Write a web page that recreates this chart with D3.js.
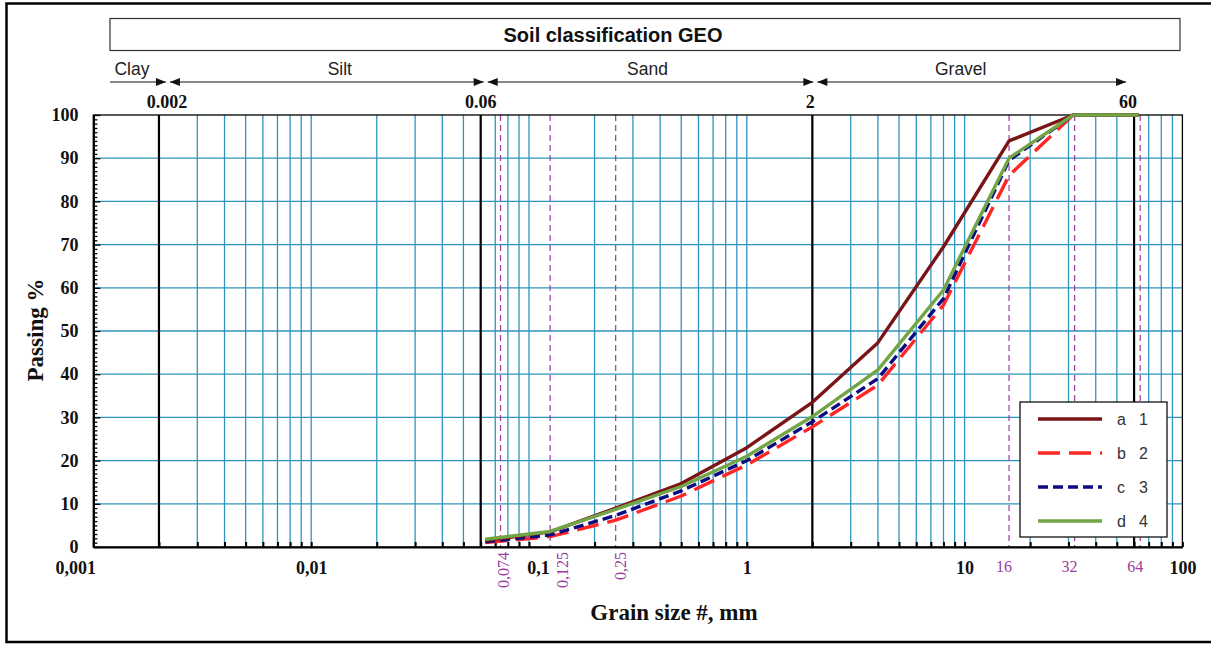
<!DOCTYPE html>
<html>
<head>
<meta charset="utf-8">
<script src="https://cdn.jsdelivr.net/npm/d3@7"></script>
<style>
  html, body { margin: 0; padding: 0; background: #ffffff; }
  svg { display: block; }
</style>
</head>
<body>
<svg id="chart" width="1211" height="645"></svg>
<script>
// ---------------- DATA ----------------
const sieveSizes = [0.063, 0.125, 0.25, 0.5, 1, 2, 4, 8, 16, 31.5, 63];
const seriesA = [1.5, 3.5, 9.0, 14.7, 23.0, 33.5, 47.3, 69.5, 94.0, 100, 100];
const seriesB = [1.0, 2.4, 6.2, 11.8, 19.0, 27.8, 37.5, 56.0, 86.0, 100, 100];
const seriesC = [1.2, 2.8, 7.3, 13.0, 20.0, 29.0, 39.0, 57.5, 89.5, 100, 100];
const seriesD = [1.8, 3.6, 8.7, 14.0, 21.0, 30.2, 41.0, 59.5, 90.0, 100, 100];
const seriesLetters = ["a", "b", "c", "d"];
const seriesNumbers = ["1", "2", "3", "4"];

const classBoundaries = [0.002, 0.06, 2, 60];
const boundaryLabels = ["0.002", "0.06", "2", "60"];
const classNames = ["Clay", "Silt", "Sand", "Gravel"];

const sieveMarks = [0.074, 0.125, 0.25, 16, 32, 64];
const sieveMarkLabels = ["0,074", "0,125", "0,25", "16", "32", "64"];

const xDecades = [0.001, 0.01, 0.1, 1, 10, 100];
const xDecadeLabels = ["0,001", "0,01", "0,1", "1", "10", "100"];
const yTickValues = [0, 10, 20, 30, 40, 50, 60, 70, 80, 90, 100];

const titleText = "Soil classification GEO";
const xTitle = "Grain size #, mm";
const yTitle = "Passing %";

// ---------------- LAYOUT / STYLE ----------------
const svg = d3.select("#chart");
const plot = { left: 93.4, right: 1182.4, top: 115, bottom: 547 };
const x = d3.scaleLog().domain([0.001, 100]).range([plot.left, plot.right]);
const y = d3.scaleLinear().domain([0, 100]).range([plot.bottom, plot.top]);

const gridColor = "#2F95BF";
const purple = "#9B3AA0";
const serif = "'Liberation Serif', 'Times New Roman', serif";
const sans = "'Liberation Sans', Arial, sans-serif";

const styles = [
  { color: "#7A1416", dash: null },
  { color: "#FF2626", dash: "22,9" },
  { color: "#0B0B82", dash: "10,5" },
  { color: "#72A545", dash: null }
];

// outer frame
svg.append("path")
  .attr("d", "M1215,3.5 H6.5 V642 H1215")
  .attr("fill", "none").attr("stroke", "#000").attr("stroke-width", 2.5);

// header box + title
svg.append("rect").attr("x", 110).attr("y", 18.5).attr("width", 1070).attr("height", 32)
  .attr("fill", "#fff").attr("stroke", "#333").attr("stroke-width", 1.2);
svg.append("text").attr("x", 613).attr("y", 42).attr("text-anchor", "middle")
  .attr("font-family", sans).attr("font-weight", "bold").attr("font-size", 20)
  .attr("fill", "#111").text(titleText);

// ---------------- GRID ----------------
const allTicks = x.ticks().filter(v => v > 0.0011 && v < 99);
const grid = svg.append("g");
grid.selectAll("line.v").data(allTicks).join("line")
  .attr("x1", d => x(d)).attr("x2", d => x(d))
  .attr("y1", plot.top).attr("y2", plot.bottom)
  .attr("stroke", gridColor).attr("stroke-width", 1.3);
grid.selectAll("line.h").data(yTickValues.filter(v => v > 0 && v < 100)).join("line")
  .attr("x1", plot.left).attr("x2", plot.right)
  .attr("y1", d => y(d)).attr("y2", d => y(d))
  .attr("stroke", gridColor).attr("stroke-width", 1.3);

// purple dashed sieve lines
svg.append("g").selectAll("line").data(sieveMarks).join("line")
  .attr("x1", d => x(d)).attr("x2", d => x(d))
  .attr("y1", plot.top).attr("y2", plot.bottom)
  .attr("stroke", purple).attr("stroke-width", 1.2).attr("stroke-dasharray", "6,4");

// black class boundaries
svg.append("g").selectAll("line").data(classBoundaries).join("line")
  .attr("x1", d => x(d)).attr("x2", d => x(d))
  .attr("y1", plot.top).attr("y2", plot.bottom)
  .attr("stroke", "#000").attr("stroke-width", 2.2);

// plot frame
svg.append("rect").attr("x", plot.left).attr("y", plot.top)
  .attr("width", plot.right - plot.left).attr("height", plot.bottom - plot.top)
  .attr("fill", "none").attr("stroke", "#000").attr("stroke-width", 1.3);

// ---------------- AXES ----------------
const xAxis = d3.axisBottom(x)
  .tickValues(x.ticks())
  .tickSizeInner(-5).tickSizeOuter(0).tickPadding(14)
  .tickFormat(d => { const i = xDecades.findIndex(v => Math.abs(v - d) / d < 1e-6); return i >= 0 ? xDecadeLabels[i] : ""; });
const gx = svg.append("g").attr("transform", `translate(0,${plot.bottom})`).call(xAxis);
gx.select(".domain").attr("stroke", "#000").attr("stroke-width", 2.2);
gx.selectAll(".tick line").attr("stroke", "#000").attr("stroke-width", 2);
gx.selectAll(".tick text").attr("font-family", serif).attr("font-weight", "bold")
  .attr("font-size", 18).attr("fill", "#111");
gx.selectAll(".tick text").filter(d => Math.abs(d - 0.001) < 1e-9).attr("text-anchor", "end").attr("dx", 2);
gx.selectAll(".tick text").filter(d => Math.abs(d - 0.1) < 1e-9).attr("dx", 9);

const yAxis = d3.axisLeft(y).tickValues(d3.range(0, 101, 1))
  .tickSizeInner(-4).tickSizeOuter(0).tickPadding(15)
  .tickFormat(d => d % 10 === 0 ? String(d) : "");
const gy = svg.append("g").attr("transform", `translate(${plot.left},0)`).call(yAxis);
gy.select(".domain").attr("stroke", "#000").attr("stroke-width", 2.2);
gy.selectAll(".tick line").attr("stroke", "#000").attr("stroke-width", 1.3)
  .attr("x2", d => d % 10 === 0 ? 7 : 4);
gy.selectAll(".tick text").attr("font-family", serif).attr("font-weight", "bold")
  .attr("font-size", 18).attr("fill", "#111");

// axis titles
svg.append("text").attr("x", 674).attr("y", 620).attr("text-anchor", "middle")
  .attr("font-family", serif).attr("font-weight", "bold").attr("font-size", 23)
  .attr("fill", "#111").text(xTitle);
svg.append("text").attr("transform", "translate(43,330) rotate(-90)").attr("text-anchor", "middle")
  .attr("font-family", serif).attr("font-weight", "bold").attr("font-size", 23)
  .attr("fill", "#111").text(yTitle);

// sieve mark labels
const rotNudge = [3, 13, 5];
svg.append("g").selectAll("text").data(sieveMarks).join("text")
  .each(function (d, i) {
    const t = d3.select(this);
    if (d < 1) {
      t.attr("transform", `translate(${x(d) + rotNudge[i] + 5},${plot.bottom + 5}) rotate(-90)`)
        .attr("text-anchor", "end");
    } else {
      t.attr("x", x(d) - 5).attr("y", plot.bottom + 25).attr("text-anchor", "middle");
    }
  })
  .attr("font-family", serif).attr("font-size", 16).attr("fill", purple)
  .text((d, i) => sieveMarkLabels[i]);

// ---------------- HEADER CLASSES ----------------
const arrowY = 82;
const meetNudge = [9, 5, 3, -6];
const meets = classBoundaries.map((b, i) => x(b) + meetNudge[i]);
const segs = [[110, meets[0]], [meets[0], meets[1]], [meets[1], meets[2]], [meets[2], meets[3]]];
const hdr = svg.append("g");
function head(xTip, dir) {
  const L = 10, H = 4;
  hdr.append("path")
    .attr("d", `M${xTip},${arrowY} L${xTip - dir * L},${arrowY - H} L${xTip - dir * L},${arrowY + H} Z`)
    .attr("fill", "#111");
}
segs.forEach((s, i) => {
  const x0 = i === 0 ? s[0] : s[0] + 2;
  const x1 = s[1] - 2;
  hdr.append("line").attr("x1", x0).attr("x2", x1).attr("y1", arrowY).attr("y2", arrowY)
    .attr("stroke", "#111").attr("stroke-width", 1.2);
  head(x1, 1);
  if (i > 0) head(x0, -1);
});
const nameNudge = [-7, 13, -3, -11];
hdr.selectAll("text.cls").data(classNames).join("text")
  .attr("x", (d, i) => (segs[i][0] + segs[i][1]) / 2 + nameNudge[i]).attr("y", 75)
  .attr("text-anchor", "middle").attr("font-family", sans).attr("font-size", 17.5)
  .attr("fill", "#222").text(d => d);
const labNudge = [8, 0, -2, -6];
hdr.selectAll("text.b").data(classBoundaries).join("text")
  .attr("x", (d, i) => x(d) + labNudge[i]).attr("y", 108)
  .attr("text-anchor", "middle").attr("font-family", serif).attr("font-weight", "bold")
  .attr("font-size", 18).attr("fill", "#111").text((d, i) => boundaryLabels[i]);

// ---------------- SERIES ----------------
const allSeries = [seriesA, seriesB, seriesC, seriesD];
const line = d3.line().x(d => x(d[0])).y(d => y(d[1]));
const drawOrder = [1, 2, 0, 3];
const gs = svg.append("g");
drawOrder.forEach(k => {
  gs.append("path")
    .datum(sieveSizes.map((s, i) => [s, allSeries[k][i]]))
    .attr("d", line).attr("fill", "none")
    .attr("stroke", styles[k].color).attr("stroke-width", 3.4)
    .attr("stroke-linejoin", "round")
    .attr("stroke-dasharray", styles[k].dash);
});

// ---------------- LEGEND ----------------
const lg = svg.append("g");
lg.append("rect").attr("x", 1020).attr("y", 402).attr("width", 147).attr("height", 135)
  .attr("fill", "#fff").attr("stroke", "#111").attr("stroke-width", 1.3);
seriesLetters.forEach((s, k) => {
  const yy = 419 + k * 34;
  lg.append("line").attr("x1", 1038).attr("x2", 1102).attr("y1", yy).attr("y2", yy)
    .attr("stroke", styles[k].color).attr("stroke-width", 3.4)
    .attr("stroke-dasharray", styles[k].dash);
  lg.append("text").attr("x", 1117).attr("y", yy + 6).attr("font-family", sans)
    .attr("font-size", 16).attr("fill", "#333").text(s);
  lg.append("text").attr("x", 1139).attr("y", yy + 6).attr("font-family", sans)
    .attr("font-size", 16).attr("fill", "#333").text(seriesNumbers[k]);
});
</script>
</body>
</html>
